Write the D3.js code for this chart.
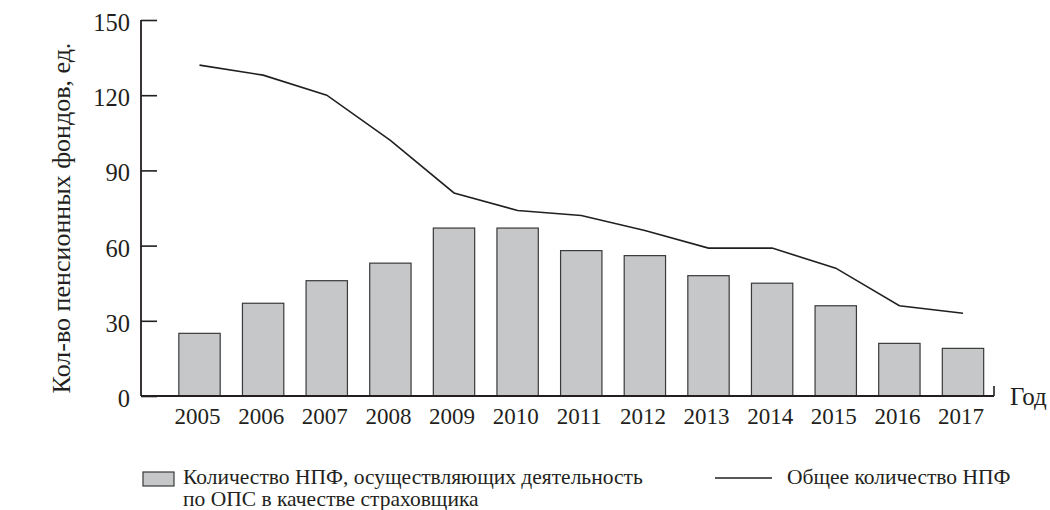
<!DOCTYPE html>
<html>
<head>
<meta charset="utf-8">
<script src="https://cdn.jsdelivr.net/npm/d3@7"></script>
<style>
  body { margin: 0; background: #fff; }
</style>
</head>
<body>
<div id="chart"></div>
<script>
// years on the x axis
var years = ["2005","2006","2007","2008","2009","2010","2011","2012","2013","2014","2015","2016","2017"];
// funds acting as insurers in the mandatory pension system (bars)
var insurerFunds = [25, 37, 46, 53, 67, 67, 58, 56, 48, 45, 36, 21, 19];
// total number of non-state pension funds (line)
var totalFunds = [132, 128, 120, 102, 81, 74, 72, 66, 59, 59, 51, 36, 33];
var yTicks = [0, 30, 60, 90, 120, 150];

var width = 1050, height = 510;
var axisX = 141, axisY = 396, axisTop = 20, axisEnd = 994;
var serif = "'Liberation Serif', 'Times New Roman', serif";

var svg = d3.select('#chart').append('svg')
  .attr('width', width)
  .attr('height', height)
  .style('background', '#fff');

function label(x, y, size, txt) {
  return svg.append('text')
    .attr('x', x).attr('y', y)
    .style('font-family', serif)
    .style('font-size', size + 'px')
    .attr('fill', '#231f20')
    .text(txt);
}

var yScale = d3.scaleLinear()
  .domain([0, 150])
  .range([axisY, axisTop]);

// bar centres
var xScale = d3.scalePoint()
  .domain(years)
  .range([199.5, 963]);

var barWidth = xScale.step() * 0.65;

// bars
svg.selectAll('rect.bar').data(insurerFunds)
  .enter().append('rect')
  .attr('class', 'bar')
  .attr('fill', '#c6c7c9')
  .attr('stroke', '#3a3a3a')
  .attr('stroke-width', 1.2)
  .attr('x', function (d, i) { return xScale(years[i]) - barWidth / 2; })
  .attr('y', function (d) { return yScale(d); })
  .attr('width', barWidth)
  .attr('height', function (d) { return axisY - yScale(d); });

// total line
var line = d3.line()
  .x(function (d, i) { return xScale(years[i]); })
  .y(function (d) { return yScale(d); });

svg.append('path')
  .datum(totalFunds)
  .attr('fill', 'none')
  .attr('stroke', '#231f20')
  .attr('stroke-width', 1.6)
  .attr('d', line);

// y axis, ticks pointing inwards
var yAxis = d3.axisRight(yScale)
  .tickValues(yTicks)
  .tickSize(16)
  .tickFormat('');

var gy = svg.append('g')
  .attr('transform', 'translate(' + axisX + ',0)')
  .call(yAxis);
gy.select('.domain').remove();
gy.selectAll('.tick line').attr('stroke', '#231f20').attr('stroke-width', 1.6);

svg.append('line')
  .attr('x1', axisX).attr('x2', axisX)
  .attr('y1', axisTop).attr('y2', axisY)
  .attr('stroke', '#231f20').attr('stroke-width', 1.8);

yTicks.forEach(function (d) {
  label(130, yScale(d) + 11, 24.5, d).attr('text-anchor', 'end');
});

// x axis
svg.append('line')
  .attr('x1', axisX).attr('x2', axisEnd)
  .attr('y1', axisY).attr('y2', axisY)
  .attr('stroke', '#231f20').attr('stroke-width', 1.8);
svg.append('line')
  .attr('x1', axisEnd).attr('x2', axisEnd)
  .attr('y1', axisY).attr('y2', axisY - 10)
  .attr('stroke', '#231f20').attr('stroke-width', 1.6);

years.forEach(function (d) {
  label(xScale(d) - 2, 424, 23, d).attr('text-anchor', 'middle');
});

label(1010, 405, 25, 'Год');

// y axis title
label(0, 0, 26, 'Кол-во пенсионных фондов, ед.')
  .attr('transform', 'translate(70,218) rotate(-90)')
  .attr('text-anchor', 'middle');

// legend
svg.append('rect')
  .attr('x', 143).attr('y', 472)
  .attr('width', 31).attr('height', 14)
  .attr('fill', '#c6c7c9')
  .attr('stroke', '#3a3a3a')
  .attr('stroke-width', 1.2);

label(183, 484, 21.5, 'Количество НПФ, осуществляющих деятельность');
label(183, 506, 21.5, 'по ОПС в качестве страховщика');

svg.append('line')
  .attr('x1', 715).attr('x2', 772)
  .attr('y1', 478).attr('y2', 478)
  .attr('stroke', '#231f20').attr('stroke-width', 1.6);
label(787, 484, 21.5, 'Общее количество НПФ');
</script>
</body>
</html>
